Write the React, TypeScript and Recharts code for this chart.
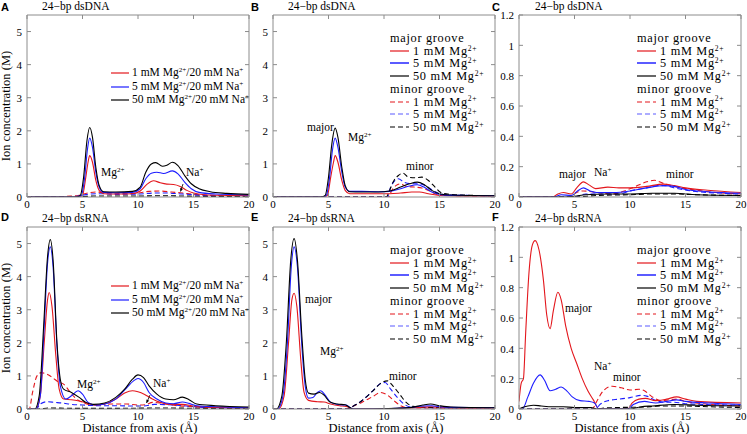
import React from "react";
import { LineChart, Line, XAxis, YAxis } from "recharts";

type Pt = [number, number];

const RED = "#e3161c";
const BLUE = "#1c1cff";
const BLACK = "#000";
const FRAME = "#8c8c8c";
const SERIF = '"Liberation Serif", "Times New Roman", serif';
const SANS = '"Liberation Sans", Arial, sans-serif';

const xTicks = [0, 5, 10, 15, 20];
const mgTicks = [0, 1, 2, 3, 4, 5];
const naTicks = [0, 0.2, 0.4, 0.6, 0.8, 1, 1.2];

// A: dsDNA, Mg2+ (solid) and Na+ (dashed)
const aMg1: Pt[] = [[0, 0], [4.6, 0], [5.0, 0.05], [5.3, 0.6], [5.5, 1.05], [5.65, 1.25], [5.9, 1.05], [6.2, 0.5], [6.5, 0.2], [6.9, 0.1], [8, 0.09], [9.5, 0.1], [10.2, 0.18], [10.8, 0.38], [11.4, 0.49], [12, 0.43], [12.6, 0.39], [13.2, 0.38], [13.8, 0.32], [14.4, 0.2], [15, 0.12], [16, 0.07], [18, 0.05], [20, 0.04]];
const aMg5: Pt[] = [[0, 0], [4.5, 0], [4.9, 0.05], [5.2, 0.6], [5.45, 1.45], [5.65, 1.78], [5.9, 1.5], [6.2, 0.75], [6.5, 0.3], [6.9, 0.14], [8, 0.13], [9.5, 0.14], [10.2, 0.25], [10.7, 0.55], [11.2, 0.72], [11.7, 0.75], [12.3, 0.71], [13.1, 0.79], [13.6, 0.7], [14.2, 0.45], [14.8, 0.25], [15.5, 0.14], [17, 0.09], [20, 0.06]];
const aMg50: Pt[] = [[0, 0], [4.4, 0], [4.8, 0.05], [5.1, 0.6], [5.4, 1.7], [5.65, 2.1], [5.9, 1.8], [6.2, 0.9], [6.5, 0.35], [6.9, 0.16], [8, 0.15], [9.5, 0.17], [10.2, 0.3], [10.7, 0.75], [11.2, 1.0], [11.6, 1.04], [12.2, 0.93], [12.6, 0.96], [13.1, 1.05], [13.6, 0.95], [14.2, 0.65], [14.8, 0.4], [15.5, 0.25], [16.5, 0.16], [18, 0.11], [20, 0.08]];
const aNa1: Pt[] = [[0, 0], [3, 0], [3.5, 0.02], [4.5, 0.04], [5.2, 0.1], [6.2, 0.15], [7.5, 0.12], [9, 0.1], [10, 0.12], [11, 0.17], [12, 0.18], [13, 0.15], [14, 0.12], [15, 0.08], [16.5, 0.05], [20, 0.03]];
const aNa5: Pt[] = [[0, 0], [3.5, 0], [4.5, 0.02], [5.5, 0.08], [6.5, 0.1], [8, 0.08], [10, 0.09], [11.5, 0.12], [12.5, 0.12], [14, 0.09], [16, 0.05], [20, 0.03]];
const aNa50: Pt[] = [[0, 0], [4, 0], [5, 0.01], [6, 0.03], [8, 0.03], [10, 0.03], [12, 0.04], [14, 0.03], [16, 0.02], [20, 0.02]];

// B: dsDNA, Mg2+ major (solid) / minor (dashed) groove
const bMaj1: Pt[] = [[0, 0], [4.5, 0], [4.9, 0.05], [5.2, 0.6], [5.45, 1.05], [5.6, 1.25], [5.85, 1.05], [6.2, 0.5], [6.5, 0.2], [6.9, 0.1], [8, 0.1], [9.5, 0.1], [10.5, 0.1], [11.5, 0.12], [12.5, 0.15], [13.2, 0.15], [14, 0.1], [15, 0.05], [20, 0.03]];
const bMaj5: Pt[] = [[0, 0], [4.4, 0], [4.8, 0.05], [5.1, 0.6], [5.35, 1.4], [5.6, 1.78], [5.85, 1.5], [6.2, 0.75], [6.5, 0.3], [6.9, 0.17], [8, 0.17], [9.5, 0.16], [10.5, 0.17], [11.5, 0.25], [12.3, 0.33], [13, 0.37], [13.6, 0.3], [14.3, 0.15], [15, 0.08], [16, 0.05], [20, 0.04]];
const bMaj50: Pt[] = [[0, 0], [4.3, 0], [4.7, 0.05], [5.0, 0.6], [5.3, 1.6], [5.6, 2.08], [5.85, 1.8], [6.2, 0.9], [6.5, 0.35], [6.9, 0.16], [8, 0.15], [9.5, 0.15], [10.5, 0.18], [11.5, 0.3], [12.3, 0.4], [13, 0.45], [13.6, 0.38], [14.3, 0.2], [15, 0.1], [16, 0.06], [20, 0.04]];
const bMin1: Pt[] = [[0, 0], [10.4, 0], [10.7, 0.2], [11.1, 0.35], [11.5, 0.4], [12, 0.32], [12.7, 0.3], [13.4, 0.27], [14, 0.2], [14.6, 0.1], [15.3, 0.05], [20, 0.03]];
const bMin5: Pt[] = [[0, 0], [10.3, 0], [10.6, 0.3], [11.0, 0.5], [11.3, 0.55], [11.8, 0.45], [12.5, 0.4], [13.2, 0.4], [13.8, 0.33], [14.5, 0.18], [15.2, 0.08], [16, 0.06], [20, 0.04]];
const bMin50: Pt[] = [[0, 0], [10.2, 0], [10.5, 0.2], [10.9, 0.5], [11.3, 0.65], [11.7, 0.72], [12.2, 0.6], [12.8, 0.58], [13.4, 0.6], [14, 0.5], [14.6, 0.3], [15.2, 0.12], [16, 0.08], [18, 0.05], [20, 0.04]];

// C: dsDNA, Na+ major / minor groove
const cMaj1: Pt[] = [[0, 0], [3, 0], [3.5, 0.02], [4, 0.03], [4.7, 0.02], [5.2, 0.06], [5.8, 0.1], [6.3, 0.08], [6.9, 0.055], [8, 0.065], [9, 0.06], [10, 0.06], [11.5, 0.07], [13, 0.085], [14, 0.075], [15, 0.06], [17, 0.045], [20, 0.03]];
const cMaj5: Pt[] = [[0, 0], [3.2, 0], [3.8, 0.015], [4.7, 0.01], [5.2, 0.035], [5.8, 0.06], [6.4, 0.04], [7, 0.03], [8.5, 0.03], [10, 0.04], [11.5, 0.06], [13, 0.075], [14, 0.07], [15, 0.05], [17, 0.035], [20, 0.025]];
const cMaj50: Pt[] = [[0, 0], [4, 0], [5, 0.005], [6, 0.015], [8, 0.02], [10, 0.02], [12, 0.025], [14, 0.025], [16, 0.015], [20, 0.01]];
const cMin1: Pt[] = [[0, 0], [4.5, 0], [5.2, 0.03], [5.8, 0.04], [7, 0.03], [8.5, 0.02], [9.5, 0.04], [10.5, 0.07], [11.5, 0.1], [12.2, 0.11], [13, 0.09], [14, 0.07], [15.5, 0.05], [17, 0.035], [20, 0.02]];
const cMin5: Pt[] = [[0, 0], [5, 0], [6, 0.02], [7.5, 0.02], [9, 0.02], [10, 0.04], [11.5, 0.06], [12.5, 0.075], [13.2, 0.075], [14, 0.06], [15.5, 0.04], [20, 0.02]];
const cMin50: Pt[] = [[0, 0], [5, 0], [7, 0.01], [10, 0.015], [12, 0.02], [14, 0.02], [16, 0.015], [20, 0.01]];

// D: dsRNA, Mg2+ (solid) and Na+ (dashed)
const dMg1: Pt[] = [[0, 0], [0.8, 0], [1.2, 0.4], [1.55, 2.0], [1.85, 3.3], [2.0, 3.52], [2.25, 3.1], [2.6, 1.6], [2.9, 0.6], [3.3, 0.3], [4, 0.28], [4.7, 0.24], [5.5, 0.17], [6.2, 0.12], [7, 0.15], [8, 0.3], [8.8, 0.48], [9.5, 0.55], [10, 0.52], [10.6, 0.44], [11.3, 0.3], [12, 0.2], [13, 0.14], [14, 0.14], [15, 0.09], [17, 0.05], [20, 0.04]];
const dMg5: Pt[] = [[0, 0], [0.8, 0], [1.2, 0.4], [1.55, 2.5], [1.85, 4.4], [2.1, 4.9], [2.35, 4.3], [2.7, 1.9], [3.0, 0.7], [3.5, 0.3], [4.0, 0.4], [4.6, 0.55], [5.0, 0.45], [5.5, 0.2], [6.2, 0.12], [7, 0.15], [8, 0.3], [9, 0.65], [9.6, 0.85], [10, 0.92], [10.5, 0.8], [11, 0.5], [11.7, 0.3], [12.5, 0.18], [13.2, 0.16], [14, 0.21], [14.6, 0.17], [15.3, 0.1], [17, 0.07], [20, 0.04]];
const dMg50: Pt[] = [[0, 0], [0.7, 0], [1.1, 0.4], [1.5, 2.5], [1.85, 4.6], [2.1, 5.12], [2.35, 4.5], [2.7, 2.0], [3.0, 0.9], [3.3, 0.6], [4.0, 0.5], [4.7, 0.35], [5.3, 0.2], [6, 0.14], [7, 0.18], [8, 0.35], [8.8, 0.6], [9.5, 0.9], [10, 1.03], [10.5, 0.95], [11, 0.7], [11.7, 0.45], [12.5, 0.3], [13.2, 0.28], [14, 0.36], [14.6, 0.28], [15.3, 0.15], [17, 0.1], [20, 0.06]];
const dNa1: Pt[] = [[0, 0], [0.2, 0], [0.5, 0.5], [0.9, 1.0], [1.3, 1.1], [1.8, 1.05], [2.3, 0.95], [2.8, 0.82], [3.3, 0.75], [3.8, 0.55], [4.3, 0.35], [5, 0.2], [6, 0.12], [7.5, 0.15], [9, 0.15], [10, 0.12], [10.7, 0.13], [11.3, 0.2], [12, 0.18], [13, 0.12], [14.5, 0.08], [16, 0.05], [20, 0.03]];
const dNa5: Pt[] = [[0, 0], [0.8, 0], [1.2, 0.15], [1.8, 0.22], [2.5, 0.2], [3.2, 0.18], [4, 0.14], [5, 0.12], [6.5, 0.1], [8, 0.1], [9.5, 0.09], [10.5, 0.09], [11.5, 0.14], [12.5, 0.13], [14, 0.1], [16, 0.05], [20, 0.03]];
const dNa50: Pt[] = [[0, 0], [1, 0], [2, 0.03], [4, 0.02], [8, 0.02], [12, 0.03], [16, 0.02], [20, 0.01]];

// E: dsRNA, Mg2+ major / minor groove
const eMaj1: Pt[] = [[0, 0], [0.5, 0], [1.0, 0.4], [1.4, 2.0], [1.7, 3.3], [1.9, 3.5], [2.15, 3.1], [2.5, 1.5], [2.8, 0.5], [3.2, 0.26], [4, 0.22], [4.6, 0.21], [5.2, 0.15], [6, 0.1], [6.6, 0.08], [7, 0.02], [7.2, 0], [10, 0], [11.5, 0.02], [13, 0.05], [14.2, 0.07], [15.5, 0.05], [20, 0.03]];
const eMaj5: Pt[] = [[0, 0], [0.4, 0], [0.9, 0.4], [1.3, 2.0], [1.65, 4.3], [1.9, 4.9], [2.2, 4.3], [2.6, 1.9], [2.9, 0.7], [3.2, 0.33], [3.6, 0.35], [4.0, 0.5], [4.3, 0.55], [4.7, 0.42], [5.2, 0.2], [6, 0.13], [6.6, 0.12], [7, 0.03], [7.3, 0], [10, 0], [11, 0.02], [12.5, 0.05], [13.5, 0.09], [14.3, 0.1], [15, 0.07], [16, 0.05], [20, 0.04]];
const eMaj50: Pt[] = [[0, 0], [0.3, 0], [0.8, 0.4], [1.2, 2.0], [1.6, 4.5], [1.9, 5.15], [2.2, 4.5], [2.6, 2.2], [2.9, 0.9], [3.2, 0.48], [3.7, 0.45], [4.2, 0.5], [4.6, 0.42], [5.1, 0.22], [5.8, 0.15], [6.5, 0.13], [6.9, 0.05], [7.2, 0], [9, 0], [11, 0.02], [12.5, 0.05], [13.5, 0.12], [14.2, 0.15], [15, 0.1], [16, 0.06], [20, 0.04]];
const eMin1: Pt[] = [[0, 0], [6.8, 0], [7.2, 0.08], [8, 0.2], [9, 0.38], [9.7, 0.5], [10.3, 0.42], [10.9, 0.25], [11.5, 0.1], [12.1, 0.04], [14, 0.03], [20, 0.02]];
const eMin5: Pt[] = [[0, 0], [6.8, 0], [7.2, 0.08], [8, 0.25], [9, 0.55], [9.6, 0.75], [10.1, 0.8], [10.6, 0.6], [11.2, 0.35], [11.8, 0.15], [12.4, 0.06], [14, 0.04], [20, 0.03]];
const eMin50: Pt[] = [[0, 0], [6.8, 0], [7.2, 0.08], [8, 0.25], [9, 0.55], [9.8, 0.8], [10.3, 0.85], [10.8, 0.7], [11.4, 0.45], [12, 0.2], [12.6, 0.08], [13.5, 0.05], [15, 0.04], [20, 0.03]];

// F: dsRNA, Na+ major / minor groove
const fMaj1: Pt[] = [[0, 0.05], [0.2, 0.17], [0.4, 0.2], [0.6, 0.5], [0.9, 0.9], [1.2, 1.08], [1.45, 1.11], [1.8, 1.05], [2.2, 0.85], [2.5, 0.62], [2.8, 0.53], [3.1, 0.65], [3.5, 0.77], [3.8, 0.72], [4.2, 0.55], [4.7, 0.4], [5.2, 0.3], [5.7, 0.2], [6.2, 0.12], [6.7, 0.06], [7.2, 0], [9.8, 0], [10.2, 0.04], [10.8, 0.065], [11.4, 0.07], [12.3, 0.055], [13.3, 0.065], [14.2, 0.08], [15, 0.065], [16, 0.05], [20, 0.04]];
const fMaj5: Pt[] = [[0, 0], [0.3, 0], [0.8, 0.08], [1.3, 0.17], [1.9, 0.225], [2.3, 0.19], [2.8, 0.12], [3.3, 0.13], [3.8, 0.145], [4.3, 0.12], [4.8, 0.08], [5.5, 0.055], [6.3, 0.05], [6.8, 0.04], [7.2, 0], [9.8, 0], [10.3, 0.03], [11.3, 0.05], [12.3, 0.04], [13.3, 0.05], [14.2, 0.06], [15, 0.05], [17, 0.04], [20, 0.03]];
const fMaj50: Pt[] = [[0, 0], [0.3, 0.01], [0.8, 0.02], [1.3, 0.025], [2, 0.02], [3, 0.015], [4, 0.015], [5, 0.01], [6.5, 0.01], [7, 0], [10, 0], [11, 0.015], [12, 0.02], [14, 0.03], [16, 0.025], [20, 0.02]];
const fMin1: Pt[] = [[0, 0], [6.6, 0], [7.0, 0.05], [7.6, 0.12], [8.4, 0.15], [9.2, 0.14], [10, 0.125], [10.8, 0.13], [11.3, 0.12], [12, 0.08], [12.8, 0.055], [13.5, 0.06], [14.3, 0.065], [15, 0.05], [16.5, 0.035], [20, 0.02]];
const fMin5: Pt[] = [[0, 0], [6.9, 0], [7.3, 0.03], [8, 0.055], [9, 0.065], [10, 0.075], [11, 0.09], [11.5, 0.085], [12.2, 0.06], [13, 0.045], [14, 0.045], [15, 0.035], [20, 0.025]];
const fMin50: Pt[] = [[0, 0], [7, 0], [7.5, 0.005], [9, 0.01], [11, 0.012], [13, 0.02], [15, 0.02], [17, 0.015], [20, 0.01]];

const toRows = (pts: Pt[]) => pts.map(([x, y]) => ({ x, y }));

const PLOT_W = 222;
const PLOT_H = 182;
// axes get 1px so that recharts still draws them
const M = { top: 8, right: 10, bottom: 22, left: 30 };

const tickText = { fontFamily: SERIF, fontSize: 11, fill: "#000" };

function BottomTick(p: any) {
  return (
    <g>
      <line x1={p.x} y1={p.y} x2={p.x} y2={p.y - 4} stroke={FRAME} />
      <text x={p.x} y={p.y + 10.5} textAnchor="middle" {...tickText}>
        {p.payload.value}
      </text>
    </g>
  );
}
function TopTick(p: any) {
  return <line x1={p.x} y1={p.y} x2={p.x} y2={p.y + 4} stroke={FRAME} />;
}
function LeftTick(p: any) {
  return (
    <g>
      <line x1={p.x} y1={p.y} x2={p.x + 4} y2={p.y} stroke={FRAME} />
      <text x={p.x - 5} y={p.y + 4.3} textAnchor="end" {...tickText}>
        {p.payload.value}
      </text>
    </g>
  );
}
function RightTick(p: any) {
  return <line x1={p.x} y1={p.y} x2={p.x - 4} y2={p.y} stroke={FRAME} />;
}

type Series = { pts: Pt[]; color: string; dashed?: boolean };

function Panel(props: { left: number; top: number; yMax: number; yTicks: number[]; series: Series[] }) {
  const { left, top, yMax, yTicks, series } = props;
  const axisCommon = { tickSize: 0, tickMargin: 0, tickLine: false, axisLine: { stroke: FRAME }, allowDataOverflow: true };
  return (
    <div style={{ position: "absolute", left: left - M.left - 1, top: top - M.top - 1 }}>
      <LineChart width={PLOT_W + M.left + M.right + 2} height={PLOT_H + M.top + M.bottom + 2} margin={M}>
        <XAxis xAxisId="b" dataKey="x" type="number" domain={[0, 20]} ticks={xTicks} height={1} {...axisCommon} tick={(p: any) => <BottomTick {...p} />} />
        <XAxis xAxisId="t" orientation="top" dataKey="x" type="number" domain={[0, 20]} ticks={xTicks} height={1} {...axisCommon} tick={(p: any) => <TopTick {...p} />} />
        <YAxis yAxisId="l" type="number" domain={[0, yMax]} ticks={yTicks} width={1} {...axisCommon} tick={(p: any) => <LeftTick {...p} />} />
        <YAxis yAxisId="r" orientation="right" type="number" domain={[0, yMax]} ticks={yTicks} width={1} {...axisCommon} tick={(p: any) => <RightTick {...p} />} />
        {series.map((s, i) => (
          <Line
            key={i}
            xAxisId="b"
            yAxisId="l"
            data={toRows(s.pts)}
            dataKey="y"
            type="monotone"
            stroke={s.color}
            strokeWidth={1.1}
            strokeDasharray={s.dashed ? "5 3" : undefined}
            dot={false}
            activeDot={false}
            isAnimationActive={false}
          />
        ))}
      </LineChart>
    </div>
  );
}

const Sup = ({ children }: { children: React.ReactNode }) => (
  <span style={{ fontSize: "0.62em", position: "relative", top: "-0.55em" }}>{children}</span>
);

function Txt(props: { x: number; y: number; size?: number; spacing?: number; children: React.ReactNode; bold?: boolean; sans?: boolean }) {
  const { x, y, size = 11.5, spacing = 0, children, bold, sans } = props;
  return (
    <div
      style={{
        position: "absolute",
        left: x,
        top: y,
        transform: "translateY(-50%)",
        fontFamily: sans ? SANS : SERIF,
        fontWeight: bold ? "bold" : "normal",
        fontSize: size,
        letterSpacing: spacing,
        lineHeight: 1,
        whiteSpace: "nowrap",
        color: "#000",
      }}
    >
      {children}
    </div>
  );
}

function Sample(props: { x: number; y: number; w: number; color: string; dashed?: boolean; width?: number }) {
  const { x, y, w, color, dashed, width = 1.2 } = props;
  return (
    <svg style={{ position: "absolute", left: x, top: y - 3 }} width={w} height={6}>
      <line x1={0} y1={3} x2={w} y2={3} stroke={color} strokeWidth={width} strokeDasharray={dashed ? "5 3" : undefined} />
    </svg>
  );
}

const MIX_LABELS = ["1", "5", "50"];
const MIX_COLORS = [RED, BLUE, BLACK];

function MixLegend(props: { x: number; y: number; step: number }) {
  const { x, y, step } = props;
  return (
    <>
      {MIX_LABELS.map((c, i) => (
        <React.Fragment key={c}>
          <Sample x={x} y={y + i * step} w={18} color={MIX_COLORS[i]} />
          <Txt x={x + 21} y={y + i * step} size={11.5}>
            {c} mM Mg<Sup>2+</Sup>/20 mM Na<Sup>+</Sup>
          </Txt>
        </React.Fragment>
      ))}
    </>
  );
}

function GrooveLegend(props: { x: number; y: number; step: number }) {
  const { x, y, step } = props;
  const rows: React.ReactNode[] = [];
  ["major groove", "minor groove"].forEach((h, g) => {
    const base = y + g * 4 * step;
    rows.push(
      <Txt key={h} x={x} y={base} size={12.3} spacing={0.7}>
        {h}
      </Txt>
    );
    MIX_LABELS.forEach((c, i) => {
      const yy = base + (i + 1) * step;
      const lighter = i === 1;
      rows.push(
        <React.Fragment key={h + c}>
          <Sample x={x} y={yy} w={19} color={lighter ? "#5b5bff" : MIX_COLORS[i]} dashed={g === 1} width={lighter && g === 0 ? 2 : 1.2} />
          <Txt x={x + 23} y={yy} size={12.3} spacing={0.7}>
            {c} mM Mg<Sup>2+</Sup>
          </Txt>
        </React.Fragment>
      );
    });
  });
  return <>{rows}</>;
}

function Arrow(props: { x1: number; y1: number; x2: number; y2: number }) {
  const { x1, y1, x2, y2 } = props;
  const a = Math.atan2(y2 - y1, x2 - x1);
  const h = 3.5;
  const p1 = [x2 - h * Math.cos(a - 0.45), y2 - h * Math.sin(a - 0.45)];
  const p2 = [x2 - h * Math.cos(a + 0.45), y2 - h * Math.sin(a + 0.45)];
  return (
    <svg style={{ position: "absolute", left: 0, top: 0 }} width={747} height={434}>
      <line x1={x1} y1={y1} x2={x2} y2={y2} stroke="#000" strokeWidth={0.8} />
      <polygon points={`${x2},${y2} ${p1[0]},${p1[1]} ${p2[0]},${p2[1]}`} fill="#000" />
    </svg>
  );
}

const mix = (m1: Pt[], m5: Pt[], m50: Pt[], n1: Pt[], n5: Pt[], n50: Pt[]): Series[] => [
  { pts: n1, color: RED, dashed: true },
  { pts: n5, color: BLUE, dashed: true },
  { pts: n50, color: BLACK, dashed: true },
  { pts: m1, color: RED },
  { pts: m5, color: BLUE },
  { pts: m50, color: BLACK },
];

export default function App() {
  return (
    <div style={{ position: "absolute", left: 0, top: 0, width: 747, height: 434, background: "#fff", overflow: "hidden" }}>
      <Panel left={27} top={15} yMax={5.5} yTicks={mgTicks} series={mix(aMg1, aMg5, aMg50, aNa1, aNa5, aNa50)} />
      <Panel left={273} top={15} yMax={5.5} yTicks={mgTicks} series={mix(bMaj1, bMaj5, bMaj50, bMin1, bMin5, bMin50)} />
      <Panel left={519} top={15} yMax={1.2} yTicks={naTicks} series={mix(cMaj1, cMaj5, cMaj50, cMin1, cMin5, cMin50)} />
      <Panel left={27} top={227} yMax={5.5} yTicks={mgTicks} series={mix(dMg1, dMg5, dMg50, dNa1, dNa5, dNa50)} />
      <Panel left={273} top={227} yMax={5.5} yTicks={mgTicks} series={mix(eMaj1, eMaj5, eMaj50, eMin1, eMin5, eMin50)} />
      <Panel left={519} top={227} yMax={1.2} yTicks={naTicks} series={mix(fMaj1, fMaj5, fMaj50, fMin1, fMin5, fMin50)} />

      {/* panel letters and titles */}
      <Txt x={1} y={6.5} size={11} bold sans>A</Txt>
      <Txt x={251} y={6.5} size={11} bold sans>B</Txt>
      <Txt x={492} y={6.5} size={11} bold sans>C</Txt>
      <Txt x={1} y={216.5} size={11} bold sans>D</Txt>
      <Txt x={251} y={216.5} size={11} bold sans>E</Txt>
      <Txt x={492} y={216.5} size={11} bold sans>F</Txt>
      <Txt x={42} y={7}>24−bp dsDNA</Txt>
      <Txt x={288} y={7}>24−bp dsDNA</Txt>
      <Txt x={535} y={7}>24−bp dsDNA</Txt>
      <Txt x={42} y={219}>24−bp dsRNA</Txt>
      <Txt x={288} y={219}>24−bp dsRNA</Txt>
      <Txt x={535} y={219}>24−bp dsRNA</Txt>

      {/* axis titles */}
      {[106, 318].map((cy) => (
        <div
          key={cy}
          style={{
            position: "absolute",
            left: 6,
            top: cy,
            transform: "translate(-50%, -50%) rotate(-90deg)",
            fontFamily: SERIF,
            fontSize: 12.5,
            lineHeight: 1,
            whiteSpace: "nowrap",
          }}
        >
          Ion concentration (M)
        </div>
      ))}
      {[140, 386, 632].map((cx) => (
        <div
          key={cx}
          style={{
            position: "absolute",
            left: cx,
            top: 428,
            transform: "translate(-50%, -50%)",
            fontFamily: SERIF,
            fontSize: 12.5,
            lineHeight: 1,
            whiteSpace: "nowrap",
          }}
        >
          Distance from axis (Å)
        </div>
      ))}

      {/* legends */}
      <MixLegend x={111} y={73} step={13.5} />
      <MixLegend x={111} y={286} step={13.5} />
      <GrooveLegend x={390} y={38} step={12.7} />
      <GrooveLegend x={637} y={38} step={12.7} />
      <GrooveLegend x={390} y={250} step={12.7} />
      <GrooveLegend x={637} y={250} step={12.7} />

      {/* annotations */}
      <Txt x={101} y={173}>Mg<Sup>2+</Sup></Txt>
      <Txt x={186} y={173}>Na<Sup>+</Sup></Txt>
      <Arrow x1={183} y1={184} x2={180.5} y2={191.5} />
      <Txt x={307} y={128}>major</Txt>
      <Txt x={348} y={138}>Mg<Sup>2+</Sup></Txt>
      <Txt x={406} y={167}>minor</Txt>
      <Txt x={559} y={175}>major</Txt>
      <Txt x={594} y={173}>Na<Sup>+</Sup></Txt>
      <Txt x={666} y={175}>minor</Txt>
      <Txt x={77} y={385}>Mg<Sup>2+</Sup></Txt>
      <Txt x={153} y={384}>Na<Sup>+</Sup></Txt>
      <Arrow x1={150} y1={395} x2={146.5} y2={403} />
      <Txt x={305} y={300}>major</Txt>
      <Txt x={320} y={352}>Mg<Sup>2+</Sup></Txt>
      <Txt x={389} y={377}>minor</Txt>
      <Txt x={565} y={309}>major</Txt>
      <Txt x={594} y={367}>Na<Sup>+</Sup></Txt>
      <Txt x={613} y={378}>minor</Txt>
    </div>
  );
}
